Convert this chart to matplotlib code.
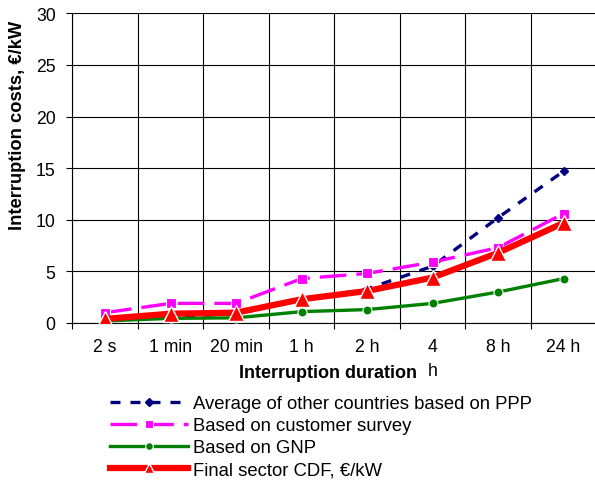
import matplotlib
matplotlib.use("Agg")
import matplotlib.pyplot as plt
from matplotlib.lines import Line2D
import numpy as np

plt.rcParams['font.family'] = ['Liberation Sans', 'DejaVu Sans']

categories = ["2 s", "1 min", "20 min", "1 h", "2 h", "4\nh", "8 h", "24 h"]
ppp_avg = [0.3, 0.6, 0.9, 2.2, 3.3, 5.5, 10.2, 14.7]
customer_survey = [1.0, 1.9, 1.9, 4.3, 4.8, 5.9, 7.3, 10.6]
gnp = [0.2, 0.45, 0.5, 1.1, 1.3, 1.9, 3.0, 4.3]
final_cdf = [0.4, 0.9, 1.0, 2.3, 3.1, 4.4, 6.8, 9.7]

labels = ["Average of other countries based on PPP",
          "Based on customer survey",
          "Based on GNP",
          "Final sector CDF, \u20ac/kW"]

fig = plt.figure(figsize=(5.95, 4.81), dpi=100)
ax = fig.add_axes([72.3/595, 1 - 324/481, 524/595, 309.7/481])

x = np.arange(len(categories))

styles = [
    dict(color='#000080', lw=2.4, dashes=(3, 3), marker='D', ms=4.5,
         mfc='#000080', mec='#000080', zorder=3),
    dict(color='#FF00FF', lw=2.4, dashes=(8, 3), marker='s', ms=7,
         mfc='#FF00FF', mec='white', mew=0.8, zorder=4),
    dict(color='#008000', lw=2.4, marker='o', ms=6.5,
         mfc='#008000', mec='white', mew=0.8, zorder=5),
    dict(color='#FF0000', lw=4.5, marker='^', ms=11,
         mfc='#FF0000', mec='white', mew=1.0, zorder=6),
]
series = [ppp_avg, customer_survey, gnp, final_cdf]
for vals, st in zip(series, styles):
    ax.plot(x, vals, **st)

legend_ms = [4.5, 5.5, 5.5, 7]
handles = []
for st, ms in zip(styles, legend_ms):
    st2 = dict(st)
    st2['ms'] = ms
    st2.pop('zorder', None)
    handles.append(Line2D([], [], **st2))

ax.set_xlim(-0.5, len(categories) - 0.5)
ax.set_ylim(0, 30)
ax.set_yticks(np.arange(0, 31, 5))

ax.set_xticks(np.arange(-0.5, len(categories), 1.0))
ax.set_xticklabels([])
ax.set_xticks(x, minor=True)
ax.set_xticklabels(categories, minor=True, fontsize=12.7)
ax.tick_params(axis='x', which='major', direction='out', length=4, width=0.8, color='black')
ax.tick_params(axis='x', which='minor', length=0, pad=10.5)
ax.tick_params(axis='y', direction='out', length=4, width=0.8, pad=8, labelsize=12.7)
for lab in ax.get_xticklabels(minor=True):
    lab.set_linespacing(1.6)

ax.grid(True, which='major', color='black', lw=0.8)
ax.set_axisbelow(True)
for s in ['top', 'right']:
    ax.spines[s].set_visible(False)
for s in ['left', 'bottom']:
    ax.spines[s].set_color('black')
    ax.spines[s].set_linewidth(0.8)

ax.set_xlabel("Interruption duration", fontsize=13, fontweight='bold')
ax.xaxis.set_label_coords((328 - 72.3) / 524, -(374 - 324) / 309.7)
ax.xaxis.label.set_va('center')
ax.xaxis.label.set_zorder(10)
ax.set_ylabel("Interruption costs, \u20ac/kW", fontsize=13.2, fontweight='bold')
ax.yaxis.set_label_coords((18 - 72.3) / 524, (324 - 125) / 309.7)
ax.yaxis.label.set_va('center')

fig.legend(handles, labels, loc='upper left',
           bbox_to_anchor=(110 / 595, 1 - 396 / 481), frameon=False,
           fontsize=13.3, handlelength=4.2, handletextpad=0.3,
           labelspacing=0.28, numpoints=1, borderpad=0, borderaxespad=0)

fig.savefig("out.png", dpi=100)
